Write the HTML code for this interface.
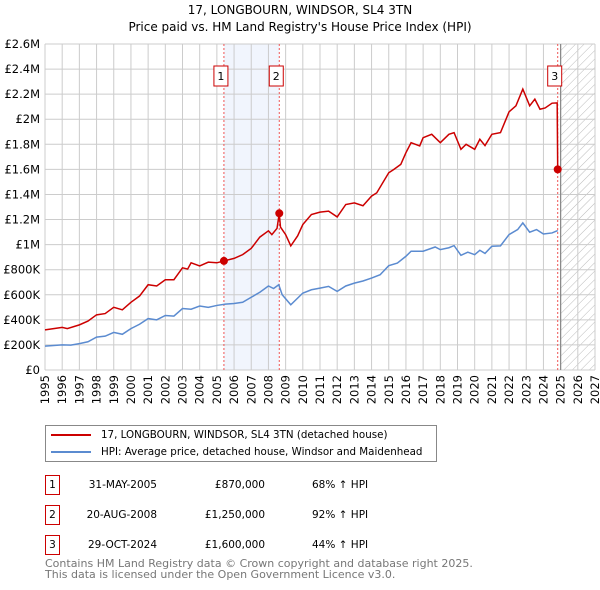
<!DOCTYPE html>
<html><head><meta charset="utf-8"><style>
body{margin:0;background:#fff;font-family:"DejaVu Sans","Liberation Sans",sans-serif;}
#wrap{position:relative;width:600px;height:590px;overflow:hidden;}
svg text{font-family:"DejaVu Sans","Liberation Sans",sans-serif;}
</style></head><body><div id="wrap">
<svg id="chart" width="600" height="590"></svg>
</div>
<script>
const yTicks=[0,200000,400000,600000,800000,1000000,1200000,1400000,1600000,1800000,2000000,2200000,2400000,2600000];
const yTickLabels=["£0","£200K","£400K","£600K","£800K","£1M","£1.2M","£1.4M","£1.6M","£1.8M","£2M","£2.2M","£2.4M","£2.6M"];
const xYears=[1995,1996,1997,1998,1999,2000,2001,2002,2003,2004,2005,2006,2007,2008,2009,2010,2011,2012,2013,2014,2015,2016,2017,2018,2019,2020,2021,2022,2023,2024,2025,2026,2027];
const hpiX=[1995,1995.5,1996,1996.5,1997,1997.5,1998,1998.5,1999,1999.5,2000,2000.5,2001,2001.5,2002,2002.5,2003,2003.5,2004,2004.5,2005,2005.5,2006,2006.5,2007,2007.5,2008,2008.3,2008.6,2008.8,2009.3,2009.9,2010,2010.5,2011,2011.5,2012,2012.5,2013,2013.5,2014,2014.5,2015,2015.5,2016,2016.3,2017,2017.7,2018,2018.5,2018.8,2019.2,2019.6,2020,2020.3,2020.6,2021,2021.5,2022,2022.5,2022.8,2023.2,2023.6,2024,2024.5,2024.83];
const hpiY=[190000,195000,200000,198000,210000,225000,262000,270000,300000,285000,330000,365000,410000,400000,435000,430000,490000,485000,510000,500000,515000,525000,530000,540000,580000,620000,670000,650000,680000,600000,520000,600000,613000,640000,653000,667000,627000,670000,693000,710000,733000,760000,832000,853000,907000,947000,947000,981000,960000,975000,992000,915000,940000,920000,955000,930000,987000,990000,1080000,1120000,1173000,1099000,1120000,1085000,1093000,1112000];
const priceX=[1995,1995.5,1996,1996.3,1997,1997.5,1998,1998.5,1999,1999.5,2000,2000.5,2001,2001.5,2002,2002.5,2003,2003.3,2003.5,2004,2004.5,2005,2005.41,2006,2006.5,2007,2007.5,2008,2008.2,2008.5,2008.63,2008.7,2009,2009.3,2009.7,2010,2010.5,2011,2011.5,2012,2012.5,2013,2013.5,2014,2014.3,2015,2015.3,2015.7,2016,2016.3,2016.8,2017,2017.5,2018,2018.5,2018.8,2019.2,2019.5,2020,2020.3,2020.6,2021,2021.5,2022,2022.4,2022.8,2023.2,2023.5,2023.8,2024.1,2024.5,2024.8,2024.83];
const priceY=[320000,330000,340000,330000,360000,390000,440000,450000,500000,480000,540000,590000,680000,670000,720000,720000,815000,805000,855000,830000,860000,855000,870000,890000,920000,970000,1060000,1110000,1080000,1130000,1250000,1140000,1080000,990000,1070000,1160000,1240000,1259000,1267000,1221000,1320000,1333000,1310000,1387000,1413000,1573000,1600000,1640000,1733000,1813000,1787000,1853000,1880000,1813000,1880000,1893000,1760000,1800000,1760000,1840000,1790000,1880000,1893000,2059000,2107000,2240000,2107000,2160000,2080000,2090000,2128000,2130000,1600000];
const saleX=[2005.41,2008.63,2024.83];
const saleY=[870000,1250000,1600000];
const saleLabels=["1","2","3"];
const saleDates=["31-MAY-2005","20-AUG-2008","29-OCT-2024"];
const salePrices=["£870,000","£1,250,000","£1,600,000"];
const saleHpi=["68% ↑ HPI","92% ↑ HPI","44% ↑ HPI"];

const L=45,R=595,T=44,B=370;
const sx=v=>L+(v-1995)*(R-L)/32;
const sy=v=>B-v*(B-T)/2600000;
const NS="http://www.w3.org/2000/svg";
const svg=document.getElementById('chart');
function mk(tag,attrs,parent){const e=document.createElementNS(NS,tag);for(const k in attrs)e.setAttribute(k,attrs[k]);(parent||svg).appendChild(e);return e;}

const defs=mk('defs',{});
const pat=mk('pattern',{id:'hatch',width:6,height:6,patternUnits:'userSpaceOnUse',patternTransform:'rotate(45)'},defs);
mk('line',{x1:0,y1:0,x2:0,y2:6,stroke:'#bbb','stroke-width':1},pat);

const t=mk('text',{x:300,y:14,'text-anchor':'middle','font-size':12,fill:'#000'});t.textContent="17, LONGBOURN, WINDSOR, SL4 3TN";


const t2=mk('text',{x:300,y:31,'text-anchor':'middle','font-size':12,fill:'#000'});t2.textContent="Price paid vs. HM Land Registry's House Price Index (HPI)";



const band=mk('rect',{x:sx(saleX[0]),y:T,width:sx(saleX[1])-sx(saleX[0]),height:B-T,fill:'#eef3fc',opacity:0.8});


const hat=mk('rect',{x:sx(2025),y:T,width:R-sx(2025),height:B-T,fill:'url(#hatch)'});



yTicks.forEach((v,i)=>{
  const g=mk('line',{x1:L,x2:R,y1:sy(v),y2:sy(v),stroke:'#ccc','stroke-width':1});
  
  
  const lb=mk('text',{x:40,y:sy(v)+4,'text-anchor':'end','font-size':11.5,fill:'#000'});lb.textContent=yTickLabels[i];
  
  
});
xYears.forEach(y=>{
  const g=mk('line',{x1:sx(y),x2:sx(y),y1:T,y2:B,stroke:'#ccc','stroke-width':1});
  
  
  const lb=mk('text',{x:0,y:0,'text-anchor':'end','font-size':11.5,fill:'#000',transform:`translate(${sx(y)+4},375) rotate(-90)`});lb.textContent=y;
  
  
});
const vl=mk('line',{x1:sx(2025),x2:sx(2025),y1:T,y2:B,stroke:'#888','stroke-width':1.2});



saleX.forEach(x=>{
  const d=mk('line',{x1:sx(x),x2:sx(x),y1:T,y2:B,stroke:'#e55','stroke-width':1,'stroke-dasharray':'2,2'});
  
  
});

const hp=mk('polyline',{points:hpiX.map((x,i)=>sx(x)+','+sy(hpiY[i])).join(' '),fill:'none',stroke:'#5b8bd0','stroke-width':1.5});


const pp=mk('polyline',{points:priceX.map((x,i)=>sx(x)+','+sy(priceY[i])).join(' '),fill:'none',stroke:'#cc0000','stroke-width':1.5});



saleX.forEach((x,i)=>{
  const c=mk('circle',{cx:sx(x),cy:sy(saleY[i]),r:4,fill:'#cc0000'});
  
  
  const bxx=sx(x)-3;
  const r=mk('rect',{x:bxx-7,y:66,width:14,height:20,fill:'#fff',stroke:'#cc0000','stroke-width':1});
  
  
  const tx=mk('text',{x:bxx,y:80,'text-anchor':'middle','font-size':11,fill:'#000'});tx.textContent=saleLabels[i];
  
  
});
</script>
<div style="position:absolute;left:45px;top:425px;width:390px;height:35px;border:1px solid #888;font-size:10.3px;">
 <div style="position:absolute;left:5px;top:3px;white-space:nowrap"><span style="display:inline-block;width:40px;height:2px;background:#cc0000;vertical-align:middle;margin-right:10px"></span>17, LONGBOURN, WINDSOR, SL4 3TN (detached house)</div>
 <div style="position:absolute;left:5px;top:20px;white-space:nowrap"><span style="display:inline-block;width:40px;height:2px;background:#5b8bd0;vertical-align:middle;margin-right:10px"></span>HPI: Average price, detached house, Windsor and Maidenhead</div>
</div>
<div id="table"></div>
<script>
const tbl=document.getElementById('table');
saleLabels.forEach((l,i)=>{
  const top=475+i*30;
  const row=document.createElement('div');
  
  
  row.style.cssText=`position:absolute;left:0;top:${top}px;width:600px;height:20px;font-size:10.5px;`;
  row.innerHTML=`<div style="position:absolute;left:45px;top:0;width:13px;height:18px;border:1px solid #cc0000;text-align:center;line-height:18px">${l}</div>
  <div style="position:absolute;left:40px;width:117px;text-align:right;line-height:20px">${saleDates[i]}</div>
  <div style="position:absolute;left:160px;width:105px;text-align:right;line-height:20px">${salePrices[i]}</div>
  <div style="position:absolute;left:312px;line-height:20px">${saleHpi[i]}</div>`;
  tbl.appendChild(row);
});
</script>
<div style="position:absolute;left:45px;top:559px;font-size:11px;color:#777;line-height:10.5px;white-space:nowrap">Contains HM Land Registry data © Crown copyright and database right 2025.<br>This data is licensed under the Open Government Licence v3.0.</div>
</body></html>
